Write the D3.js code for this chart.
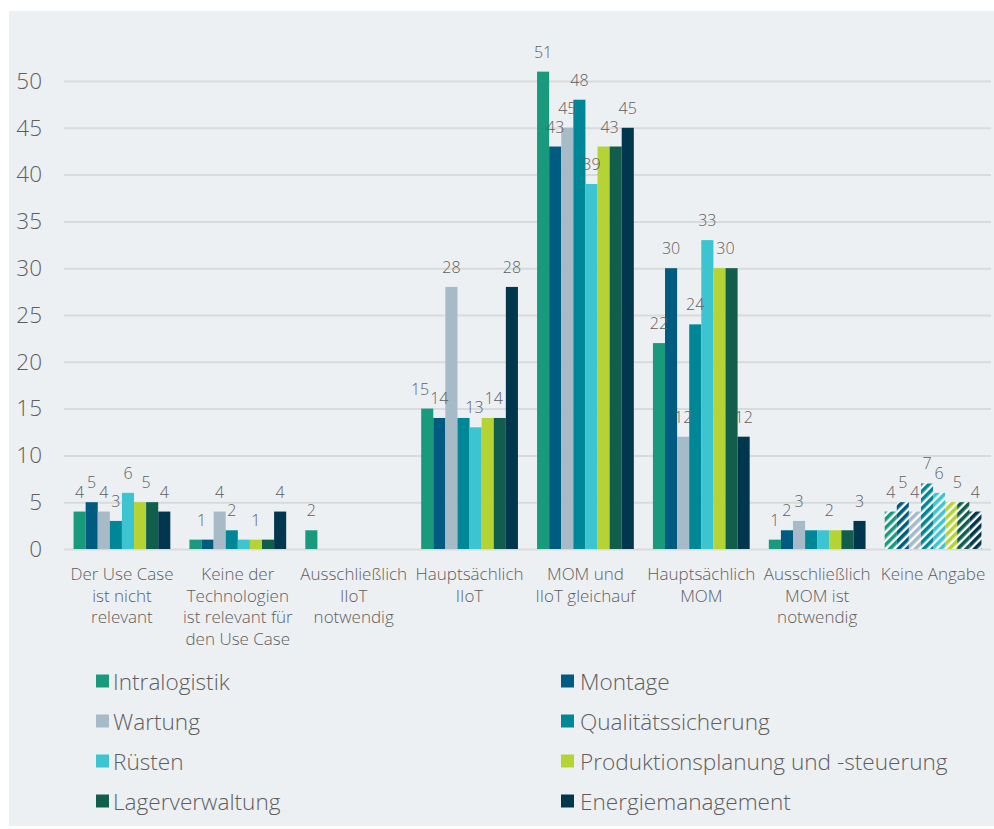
<!DOCTYPE html>
<html lang="de">
<head>
<meta charset="utf-8">
<script src="https://cdn.jsdelivr.net/npm/d3@7"></script>
<style>
  html, body { margin: 0; padding: 0; background: #ffffff; }
  svg { display: block; font-family: "Open Sans", "Noto Sans", sans-serif; font-weight: 300; }
</style>
</head>
<body>
<svg id="chart" width="994" height="829"></svg>
<script>
// Kategorien (x-Achse), je Zeile ein Textumbruch
const categories = [
  ["Der Use Case", "ist nicht", "relevant"],
  ["Keine der", "Technologien", "ist relevant für", "den Use Case"],
  ["Ausschließlich", "IIoT", "notwendig"],
  ["Hauptsächlich", "IIoT"],
  ["MOM und", "IIoT gleichauf"],
  ["Hauptsächlich", "MOM"],
  ["Ausschließlich", "MOM ist", "notwendig"],
  ["Keine Angabe"]
];

// Anzahl der Nennungen je Anwendungsbereich und Kategorie
const intralogistik      = [4, 1, 2, 15, 51, 22, 1, 4];
const montage            = [5, 1, 0, 14, 43, 30, 2, 5];
const wartung            = [4, 4, 0, 28, 45, 12, 3, 4];
const qualitaet          = [3, 2, 0, 14, 48, 24, 2, 7];
const ruesten            = [6, 1, 0, 13, 39, 33, 2, 6];
const produktionsplanung = [5, 1, 0, 14, 43, 30, 2, 5];
const lagerverwaltung    = [5, 1, 0, 14, 43, 30, 2, 5];
const energiemanagement  = [4, 4, 0, 28, 45, 12, 3, 4];

const seriesNames = [
  "Intralogistik", "Montage", "Wartung", "Qualitätssicherung",
  "Rüsten", "Produktionsplanung und -steuerung", "Lagerverwaltung", "Energiemanagement"
];
const seriesValues = [
  intralogistik, montage, wartung, qualitaet,
  ruesten, produktionsplanung, lagerverwaltung, energiemanagement
];
const seriesColors = [
  "#1a9a7c", "#005b80", "#a7bac7", "#008797",
  "#3cc4d0", "#b5d334", "#105e4b", "#00374f"
];

const yTicks = [0, 5, 10, 15, 20, 25, 30, 35, 40, 45, 50];

// Kategorie, deren Balken schraffiert dargestellt werden
const hatchedCategories = ["Keine Angabe"];
// Wertebeschriftungen, die wegen Überlappung entfallen: [Kategorie-Index, Reihen-Index]
const omittedLabels = [[3, 3]];

const textColor = "#5e5e5e";
const svg = d3.select("#chart");

// Hintergrundfläche
svg.append("rect")
  .attr("x", 9).attr("y", 11).attr("width", 985).attr("height", 815)
  .attr("fill", "#edf0f3");

const plot = { left: 64, right: 991 };

const x0 = d3.scaleBand()
  .domain(d3.range(categories.length))
  .range([plot.left, plot.right])
  .paddingInner(0.165).paddingOuter(0.0825);

const x1 = d3.scaleBand()
  .domain(d3.range(seriesNames.length))
  .range([0, x0.bandwidth()]);

const y = d3.scaleLinear().domain([0, 50]).range([549, 81]);

// Schraffur-Muster je Farbe
const defs = svg.append("defs");
seriesColors.forEach((c, i) => {
  const p = defs.append("pattern")
    .attr("id", "hatch" + i)
    .attr("patternUnits", "userSpaceOnUse")
    .attr("width", 6).attr("height", 6)
    .attr("patternTransform", "rotate(45)");
  p.append("rect").attr("width", 6).attr("height", 6).attr("fill", "#ffffff");
  p.append("rect").attr("width", 3.6).attr("height", 6).attr("fill", c);
});

// Gitterlinien und y-Achse
const yAxis = d3.axisLeft(y)
  .tickValues(yTicks)
  .tickSize(-(plot.right - plot.left))
  .tickPadding(22);

const gy = svg.append("g")
  .attr("transform", `translate(${plot.left},0)`)
  .call(yAxis);
gy.select(".domain").remove();
gy.selectAll(".tick line").attr("stroke", "#d9dadb").attr("stroke-width", 2);
gy.selectAll(".tick text")
  .attr("fill", textColor)
  .style("font-size", "22.5px")
  .style("font-family", "'Open Sans', sans-serif")
  .style("font-weight", 300);

// Balken
const groups = svg.append("g").selectAll("g")
  .data(categories)
  .join("g")
  .attr("transform", (d, ci) => `translate(${x0(ci)},0)`);

groups.each(function (cat, ci) {
  const g = d3.select(this);
  const hatched = hatchedCategories.includes(cat.join(" "));
  const vals = seriesValues.map(s => s[ci]);
  g.selectAll("rect")
    .data(vals.map((v, si) => ({ v, si })).filter(d => d.v > 0))
    .join("rect")
    .attr("x", d => x1(d.si))
    .attr("y", d => y(d.v))
    .attr("width", x1.bandwidth())
    .attr("height", d => y(0) - y(d.v))
    .attr("fill", d => hatched ? `url(#hatch${d.si})` : seriesColors[d.si]);

  // Wertebeschriftungen: gleiche Nachbarwerte teilen sich eine Beschriftung
  const labels = [];
  let i = 0;
  while (i < vals.length) {
    let j = i;
    while (j + 1 < vals.length && vals[j + 1] === vals[i]) j++;
    const omitted = omittedLabels.some(([c, s]) => c === ci && s >= i && s <= j);
    if (vals[i] > 0 && !omitted) {
      labels.push({
        v: vals[i],
        cx: (x1(i) + x1(j) + x1.bandwidth()) / 2
      });
    }
    i = j + 1;
  }

  const texts = g.selectAll("text.val")
    .data(labels)
    .join("text")
    .attr("class", "val")
    .attr("x", d => d.cx)
    .attr("y", d => y(d.v) - 14)
    .attr("text-anchor", "middle")
    .attr("fill", textColor)
    .style("font-size", "16px")
    .text(d => d.v);

  // Überlappende Nachbarbeschriftungen nach links ausweichen lassen
  const nodes = texts.nodes();
  for (let k = nodes.length - 2; k >= 0; k--) {
    const a = nodes[k].getBBox(), b = nodes[k + 1].getBBox();
    const vOverlap = Math.abs(a.y - b.y) < 11;
    const hOverlap = a.x + a.width - b.x;
    if (vOverlap && hOverlap > 0) {
      const d = d3.select(nodes[k]).datum();
      d3.select(nodes[k]).attr("x", d.cx - hOverlap - 1);
    }
  }
});

// Kategoriebeschriftungen
const xl = svg.append("g").selectAll("text")
  .data(categories)
  .join("text")
  .attr("x", (d, ci) => x0(ci) + x0.bandwidth() / 2)
  .attr("y", 580)
  .attr("text-anchor", "middle")
  .attr("fill", textColor)
  .style("font-size", "17px");
xl.selectAll("tspan")
  .data(d => d)
  .join("tspan")
  .attr("x", function () { return d3.select(this.parentNode).attr("x"); })
  .attr("dy", (d, i) => i === 0 ? 0 : 21.7)
  .text(d => d);

// Legende in zwei Spalten
const legend = svg.append("g");
const legendCols = [96, 561];
const legendItems = legend.selectAll("g")
  .data(seriesNames)
  .join("g")
  .attr("transform", (d, i) => `translate(${legendCols[i % 2]},${681 + Math.floor(i / 2) * 40})`);
legendItems.append("rect")
  .attr("x", 0).attr("y", -6.5)
  .attr("width", 13).attr("height", 13)
  .attr("fill", (d, i) => seriesColors[i]);
legendItems.append("text")
  .attr("x", (d, i) => i % 2 === 0 ? 17 : 19)
  .attr("y", 8.5)
  .attr("fill", textColor)
  .style("font-size", "22.6px")
  .text(d => d);
</script>
</body>
</html>
